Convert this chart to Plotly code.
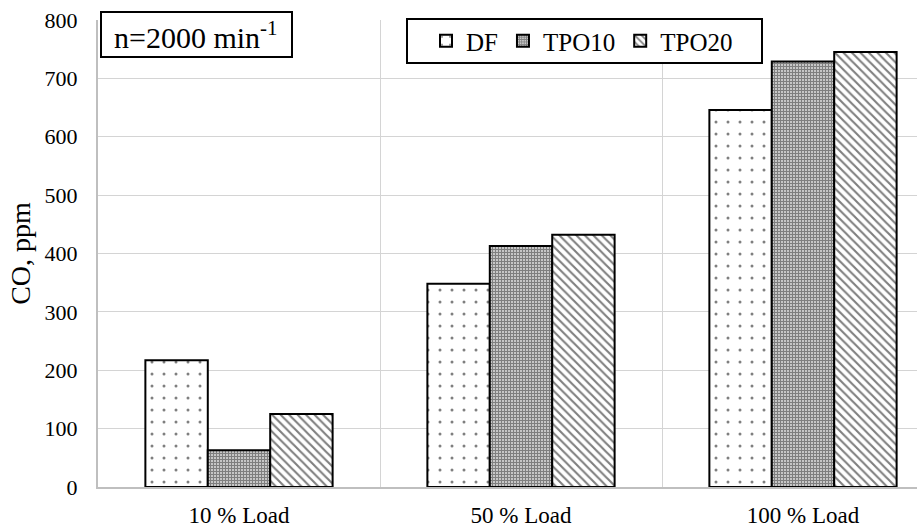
import plotly.graph_objects as go

# Carbon monoxide emissions at n = 2000 min^-1
loads = ["10 % Load", "50 % Load", "100 % Load"]
df_co = [217, 348, 646]
tpo10_co = [63, 413, 729]
tpo20_co = [125, 432, 745]
y_ticks = [0, 100, 200, 300, 400, 500, 600, 700, 800]

FONT = "Liberation Serif"

fig = go.Figure()
series = [
    ("DF", df_co, dict(shape=".", size=12, solidity=0.05, fgcolor="black", bgcolor="white")),
    ("TPO10", tpo10_co, dict(shape="+", size=3, solidity=0.75, fgcolor="black", bgcolor="white")),
    ("TPO20", tpo20_co, dict(shape="\\", size=6, solidity=0.35, fgcolor="black", bgcolor="white")),
]
for name, vals, pat in series:
    fig.add_trace(go.Bar(
        x=loads, y=vals, name=name,
        marker=dict(color="white", pattern=pat, line=dict(color="black", width=2)),
    ))

L, T, B = 98, 20, 40
W, H = 917, 527
pw = W - L
ph = H - T - B

fig.update_layout(
    width=W, height=H,
    margin=dict(l=L, r=0, t=T, b=B),
    paper_bgcolor="white", plot_bgcolor="white",
    barmode="group", bargap=0.336, bargroupgap=0,
    font=dict(family=FONT, size=23, color="black"),
    showlegend=True,
    legend=dict(
        orientation="h", x=(582 - L) / pw, xanchor="center",
        y=1 - 21 / ph, yanchor="middle",
        bgcolor="rgba(0,0,0,0)", borderwidth=0,
        font=dict(family=FONT, size=25),
    ),
    xaxis=dict(
        range=[-0.5, -0.5 + pw / 282.0],
        tickson="boundaries", showgrid=True, gridcolor="#d4d4d4", gridwidth=1,
        showline=True, linecolor="#bfbfbf", linewidth=2,
        ticks="", ticklabelstandoff=6, tickfont=dict(family=FONT, size=23),
    ),
    yaxis=dict(
        range=[0, 800], tickvals=y_ticks,
        showgrid=True, gridcolor="#d4d4d4", gridwidth=1,
        showline=True, linecolor="#bfbfbf", linewidth=2,
        ticks="", ticklabelstandoff=14, tickfont=dict(family=FONT, size=22),
        title=dict(text="CO, ppm", font=dict(family=FONT, size=28), standoff=6),
        zeroline=False,
    ),
)

# legend frame
fig.add_shape(type="rect", xref="paper", yref="paper",
              x0=(407 - L) / pw, x1=(762 - L) / pw,
              y0=1 - (63 - T) / ph, y1=1 - (19 - T) / ph,
              line=dict(color="black", width=2), fillcolor="white", layer="above")
# speed label frame
fig.add_shape(type="rect", xref="paper", yref="paper",
              x0=(101 - L) / pw, x1=(292 - L) / pw,
              y0=1 - (57 - T) / ph, y1=1 - (12 - T) / ph,
              line=dict(color="black", width=2), fillcolor="white", layer="above")
fig.add_annotation(text="n=2000 min<sup>-1</sup>", xref="paper", yref="paper",
                   x=(196 - L) / pw, y=1 - (35 - T) / ph, xanchor="center", yanchor="middle",
                   showarrow=False, font=dict(family=FONT, size=30, color="black"))

fig.write_html("out.html")
